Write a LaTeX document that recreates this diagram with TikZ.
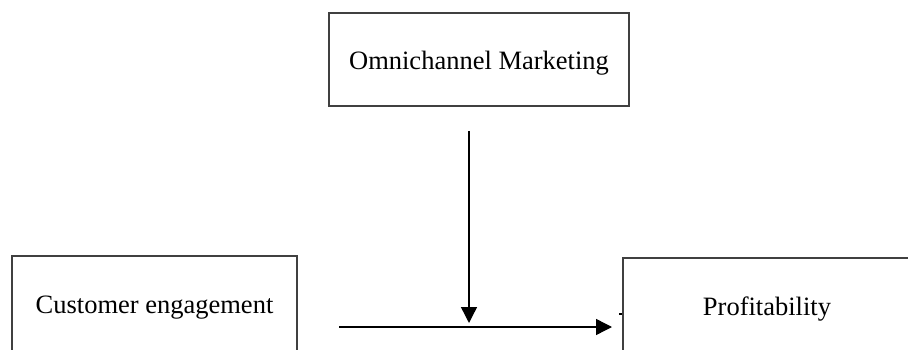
\documentclass[tikz,border=0pt]{standalone}
\usepackage{fontspec}
\setmainfont{Liberation Serif}
\usetikzlibrary{arrows.meta}
\begin{document}
\begin{tikzpicture}[x=1pt,y=-1pt,
  boxnode/.style={draw=black!75,line width=1.3pt,inner sep=0pt,font=\fontsize{26.5}{30}\selectfont},
  conn/.style={line width=1.4pt,-{Triangle[length=16pt,width=16pt]}}]
\useasboundingbox[fill=white] (0,0) rectangle (908,350);
\node[boxnode,minimum width=300,minimum height=93,text height=24pt,text depth=3pt] (omni) at (479,59.5) {Omnichannel Marketing};
\node[boxnode,minimum width=285,minimum height=100,text height=19pt,text depth=5pt] (cust) at (154.5,306) {Customer engagement};
\node[boxnode,minimum width=288,minimum height=98,text height=20pt,text depth=4pt] (prof) at (767,307) {Profitability};
\coordinate (vs) at (469,131);
\coordinate (ve) at (469,323);
\coordinate (hs) at (339,327);
\coordinate (he) at (612,327);
\draw[conn] (vs) -- (ve);
\draw[conn] (hs) -- (he);
\coordinate (tk) at (619,314);
\draw[line width=1.2pt] (tk) -- (prof.west |- tk);
\end{tikzpicture}
\end{document}
